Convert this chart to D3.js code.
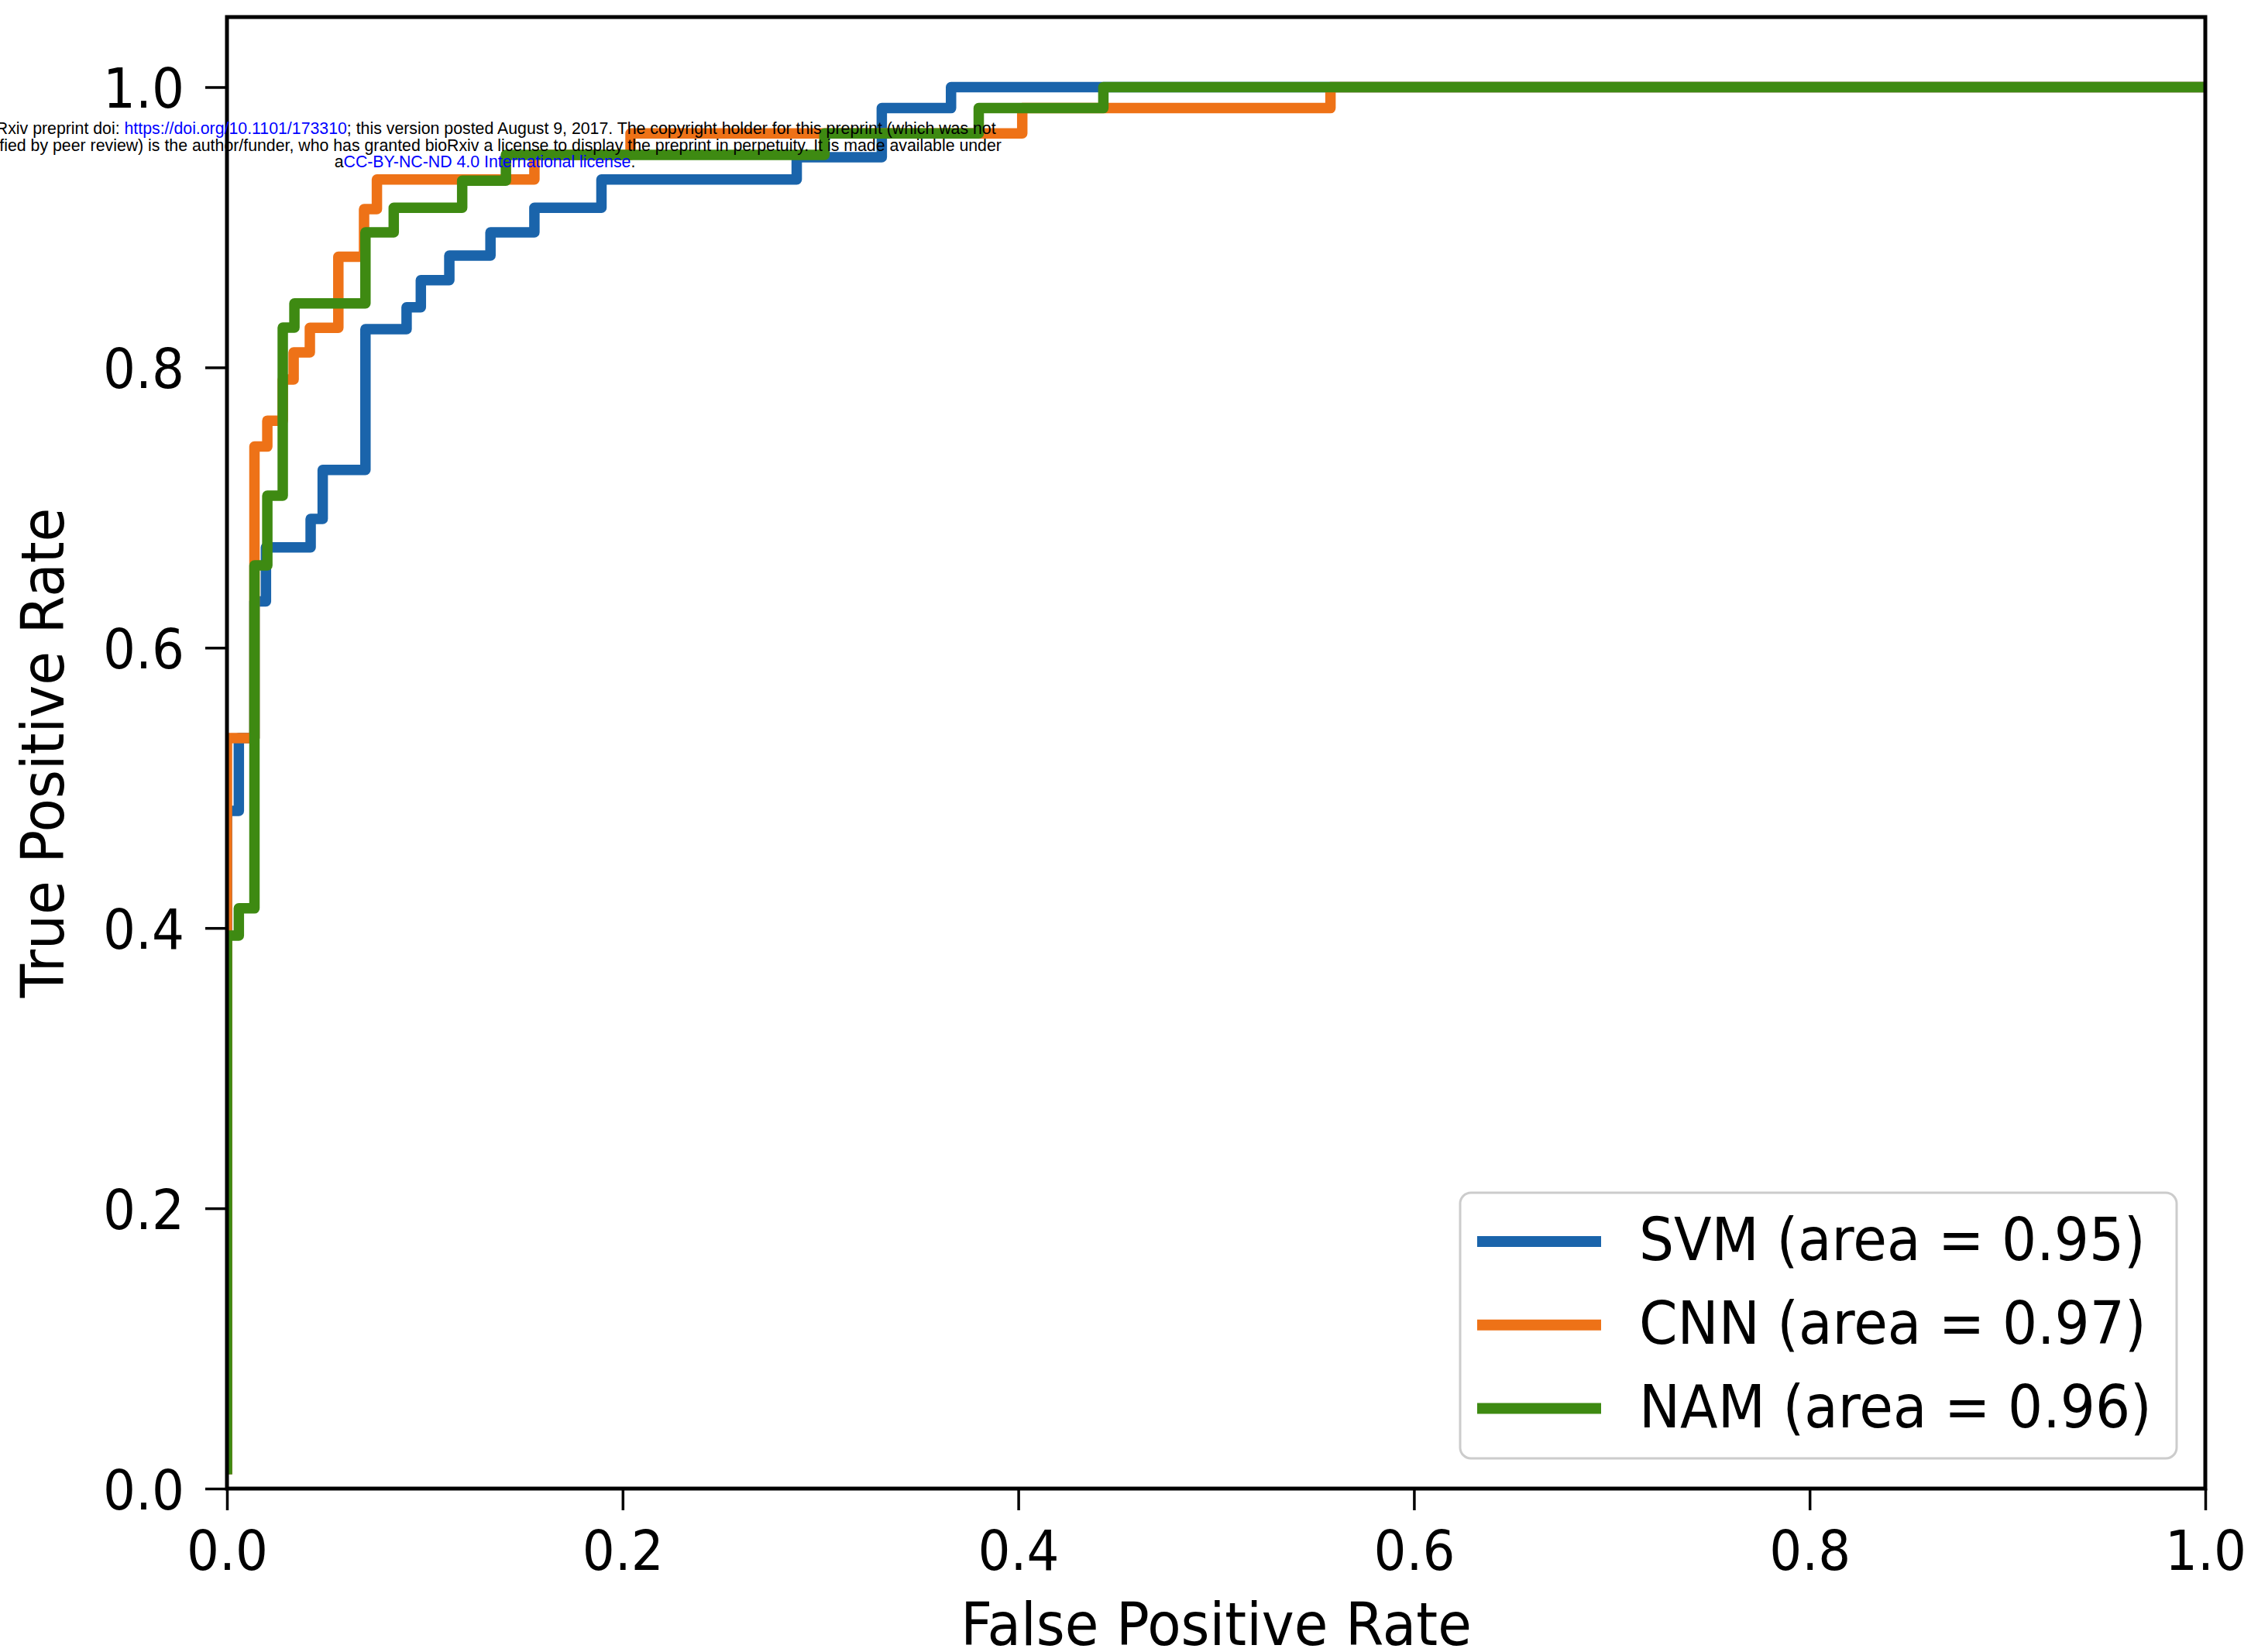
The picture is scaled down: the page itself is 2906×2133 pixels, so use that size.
<!DOCTYPE html>
<html>
<head>
<meta charset="utf-8">
<script src="https://cdn.jsdelivr.net/npm/d3@7"></script>
<style>
  body { margin: 0; background: #fff; }
  .tick text, .lbl { font-family: "DejaVu Sans", sans-serif; fill: #000; }
  .hdr { font-family: "Liberation Sans", Arial, sans-serif; font-size: 21.3px; fill: #000; }
</style>
</head>
<body>
<div id="chart"></div>
<script>
// ROC curves (corner points of each step curve)
const svmFpr = [0, 0, 0.006, 0.006, 0.0139, 0.0139, 0.0197, 0.0197, 0.0423, 0.0423, 0.0484, 0.0484, 0.070, 0.070, 0.0908, 0.0908, 0.098, 0.098, 0.1124, 0.1124, 0.1332, 0.1332, 0.1554, 0.1554, 0.1893, 0.1893, 0.288, 0.288, 0.331, 0.331, 0.366, 0.366, 1.0];
const svmTpr = [0.014, 0.4836, 0.4836, 0.5355, 0.5355, 0.633, 0.633, 0.6716, 0.6716, 0.6919, 0.6919, 0.7269, 0.7269, 0.8273, 0.8273, 0.8429, 0.8429, 0.8623, 0.8623, 0.8798, 0.8798, 0.8964, 0.8964, 0.9139, 0.9139, 0.9341, 0.9341, 0.95, 0.95, 0.985, 0.985, 1.0, 1.0];

const cnnFpr = [0, 0, 0.0139, 0.0139, 0.0204, 0.0204, 0.0282, 0.0282, 0.0337, 0.0337, 0.0419, 0.0419, 0.0563, 0.0563, 0.0693, 0.0693, 0.0758, 0.0758, 0.1554, 0.1554, 0.204, 0.204, 0.402, 0.402, 0.5578, 0.5578, 1.0];
const cnnTpr = [0.014, 0.5355, 0.5355, 0.7435, 0.7435, 0.762, 0.762, 0.7914, 0.7914, 0.8107, 0.8107, 0.8282, 0.8282, 0.8789, 0.8789, 0.913, 0.913, 0.9341, 0.9341, 0.9517, 0.9517, 0.967, 0.967, 0.985, 0.985, 1.0, 1.0];

const namFpr = [0, 0, 0.006, 0.006, 0.0139, 0.0139, 0.0204, 0.0204, 0.0282, 0.0282, 0.0341, 0.0341, 0.070, 0.070, 0.0843, 0.0843, 0.1189, 0.1189, 0.141, 0.141, 0.302, 0.302, 0.380, 0.380, 0.443, 0.443, 1.0];
const namTpr = [0.014, 0.3946, 0.3946, 0.414, 0.414, 0.6587, 0.6587, 0.7085, 0.7085, 0.8284, 0.8284, 0.8457, 0.8457, 0.8964, 0.8964, 0.9139, 0.9139, 0.9332, 0.9332, 0.9517, 0.9517, 0.967, 0.967, 0.985, 0.985, 1.0, 1.0];

const seriesNames = ["SVM (area = 0.95)", "CNN (area = 0.97)", "NAM (area = 0.96)"];
const seriesColors = ["#1a64ab", "#ee7217", "#3e8a12"];
const tickValues = [0, 0.2, 0.4, 0.6, 0.8, 1.0];

const headerLines = [
  [["bioRxiv preprint doi: ", false], ["https://doi.org/10.1101/173310", true], ["; this version posted August 9, 2017. The copyright holder for this preprint (which was not", false]],
  [["certified by peer review) is the author/funder, who has granted bioRxiv a license to display the preprint in perpetuity. It is made available under", false]],
  [["a", false], ["CC-BY-NC-ND 4.0 International license", true], [".", false]]
];

const width = 2906, height = 2133;
const margin = { top: 22, right: 59, bottom: 211, left: 293 };
const stretch = 1.08; // glyphs in the picture are a bit taller than DejaVu

const svg = d3.select("#chart").append("svg")
  .attr("width", width)
  .attr("height", height)
  .style("background", "#fff");

const xScale = d3.scaleLinear().domain([0, 1]).range([margin.left, width - margin.right]);
const yScale = d3.scaleLinear().domain([0, 1.05]).range([height - margin.bottom, margin.top]);

svg.append("clipPath").attr("id", "plotclip")
  .append("rect")
  .attr("x", xScale(0)).attr("y", yScale(1.05))
  .attr("width", xScale(1) - xScale(0))
  .attr("height", yScale(0) - yScale(1.05));

const curves = [
  svmFpr.map((f, i) => ({ f: f, t: svmTpr[i] })),
  cnnFpr.map((f, i) => ({ f: f, t: cnnTpr[i] })),
  namFpr.map((f, i) => ({ f: f, t: namTpr[i] }))
];

const line = d3.line()
  .x(d => xScale(d.f))
  .y(d => yScale(d.t));

svg.append("g").attr("clip-path", "url(#plotclip)")
  .selectAll("path")
  .data(curves)
  .enter().append("path")
    .attr("d", d => line(d))
    .attr("fill", "none")
    .attr("stroke", (d, i) => seriesColors[i])
    .attr("stroke-width", 13.5)
    .attr("stroke-linejoin", "round")
    .attr("stroke-linecap", "square");

// x axis
const xAxis = svg.append("g")
  .attr("transform", "translate(0," + yScale(0) + ")")
  .call(d3.axisBottom(xScale).tickValues(tickValues).tickFormat(d3.format(".1f")).tickSize(28).tickSizeOuter(0));
xAxis.select(".domain").remove();
xAxis.selectAll(".tick line").attr("stroke", "#000").attr("stroke-width", 3.5);
xAxis.selectAll(".tick text")
  .attr("y", null).attr("dy", null)
  .attr("font-size", 66)
  .attr("transform", "translate(0,105) scale(1," + stretch + ")");

// y axis
const yAxis = svg.append("g")
  .attr("transform", "translate(" + xScale(0) + ",0)")
  .call(d3.axisLeft(yScale).tickValues(tickValues).tickFormat(d3.format(".1f")).tickSize(28).tickSizeOuter(0));
yAxis.select(".domain").remove();
yAxis.selectAll(".tick line").attr("stroke", "#000").attr("stroke-width", 3.5);
yAxis.selectAll(".tick text")
  .attr("x", null).attr("dy", null)
  .attr("font-size", 66)
  .attr("transform", "translate(-55,26) scale(1," + stretch + ")");

// spines
svg.append("rect")
  .attr("x", xScale(0)).attr("y", yScale(1.05))
  .attr("width", xScale(1) - xScale(0))
  .attr("height", yScale(0) - yScale(1.05))
  .attr("fill", "none")
  .attr("stroke", "#000")
  .attr("stroke-width", 5);

// axis labels
svg.append("text").attr("class", "lbl")
  .attr("font-size", 71)
  .attr("text-anchor", "middle")
  .attr("transform", "translate(" + (xScale(0) + xScale(1)) / 2 + ",2124) scale(1," + stretch + ")")
  .text("False Positive Rate");

svg.append("text").attr("class", "lbl")
  .attr("font-size", 71)
  .attr("text-anchor", "middle")
  .attr("transform", "translate(82," + (yScale(0) + yScale(1.05)) / 2 + ") rotate(-90) scale(1," + stretch + ")")
  .text("True Positive Rate");

// legend
const legend = svg.append("g");
legend.append("rect")
  .attr("x", 1885).attr("y", 1540)
  .attr("width", 925).attr("height", 343)
  .attr("rx", 14)
  .attr("fill", "#fff").attr("fill-opacity", 0.8)
  .attr("stroke", "#cccccc").attr("stroke-width", 3);

const rows = legend.selectAll("g.row")
  .data(seriesNames)
  .enter().append("g")
    .attr("class", "row")
    .attr("transform", (d, i) => "translate(0," + (1603 + i * 107.8) + ")");
rows.append("line")
  .attr("x1", 1907).attr("x2", 2067)
  .attr("stroke", (d, i) => seriesColors[i])
  .attr("stroke-width", 14);
rows.append("text").attr("class", "lbl")
  .attr("font-size", 71)
  .attr("transform", "translate(2116,24) scale(1," + stretch + ")")
  .text(d => d);

// bioRxiv stamp printed over the figure
const hdr = svg.append("g");
headerLines.forEach((parts, i) => {
  const t = hdr.append("text").attr("class", "hdr")
    .attr("x", 626)
    .attr("y", 173 + i * 21.6)
    .attr("text-anchor", "middle");
  parts.forEach(p => {
    t.append("tspan").attr("fill", p[1] ? "#0000ff" : "#000").text(p[0]);
  });
});
</script>
</body>
</html>
